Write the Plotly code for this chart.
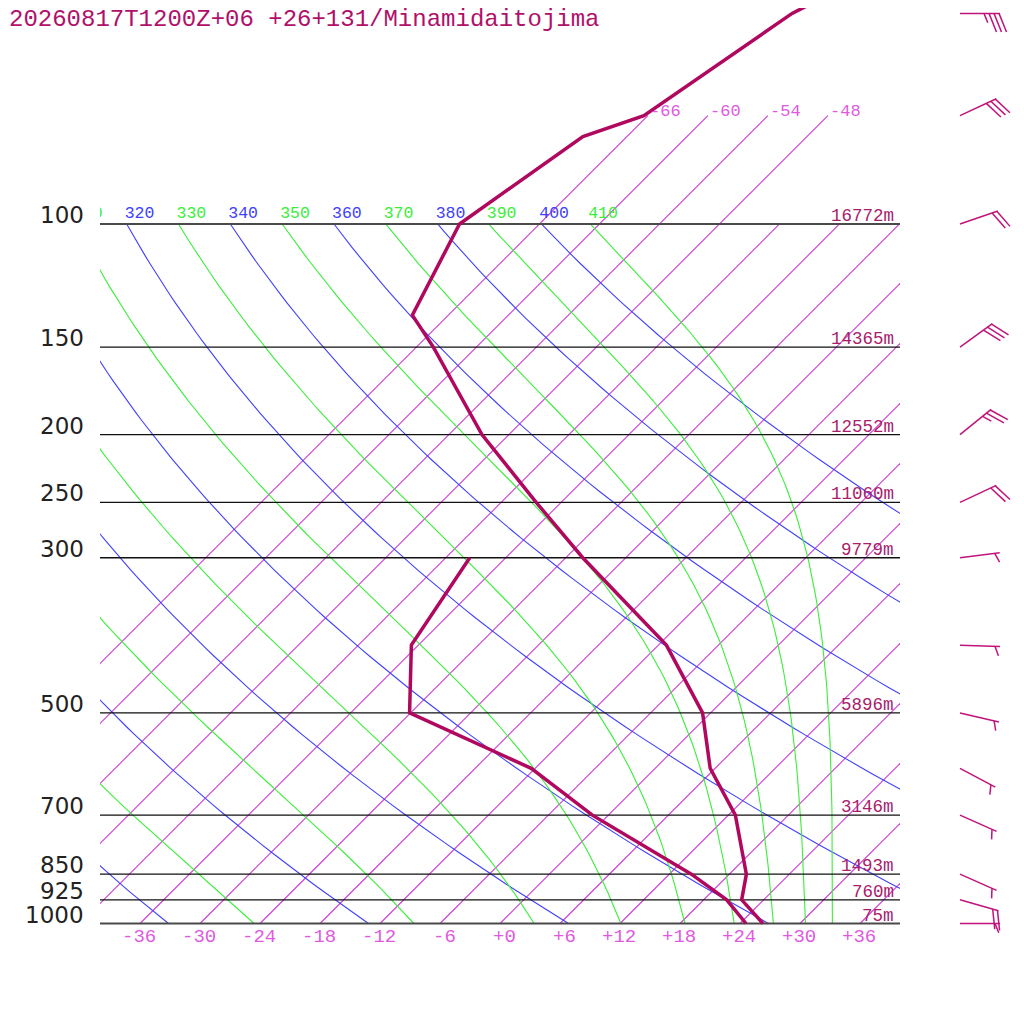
import numpy as np
import plotly.graph_objects as go

TITLE = "20260817T1200Z+06 +26+131/Minamidaitojima"

# sounding: temperature and dew point (hPa, degC)
temp_p = [1000, 925, 850, 700, 600, 500, 400, 300, 250, 200, 150, 135, 100, 75, 70, 50, 40]
temp_c = [26.3, 21.8, 19.7, 12.7, 5.5, -0.8, -11.2, -28.3, -38.5, -50.7, -64.3, -69.6, -74.0, -70.4, -66.4, -61.8, -55.2]
dewp_p = [1000, 925, 850, 700, 600, 500, 400, 300]
dewp_c = [24.6, 20.3, 14.2, -1.6, -12.4, -30.1, -36.7, -39.6]

# standard levels with geopotential height (m)
level_p = [100, 150, 200, 250, 300, 500, 700, 850, 925, 1000]
level_hgt = [16772, 14365, 12552, 11060, 9779, 5896, 3146, 1493, 760, 75]

# winds (direction deg, speed kt)
wind_p = [50, 70, 100, 150, 200, 250, 300, 400, 500, 600, 700, 850, 925, 1000]
wind_dir = [90, 65, 71, 54, 51, 65, 83, 92, 103, 118, 114, 114, 106, 90]
wind_kt = [35, 30, 20, 30, 25, 20, 5, 5, 5, 5, 5, 5, 20, 5]

# background lines
isotherms = [-66, -60, -54, -48, -42, -36, -30, -24, -18, -12, -6, 0, 6, 12, 18, 24, 30, 36]
upper_isotherms = [-66, -60, -54, -48]
dry_theta = [240, 260, 280, 300, 320, 340, 360, 380, 400]
moist_thetae = [250, 270, 290, 310, 330, 350, 370, 390, 410]
temp_ticks = [-36, -30, -24, -18, -12, -6, 0, 6, 12, 18, 24, 30, 36]

# diagram geometry (page pixels; the page body adds an 8 px margin)
PAGE_OFF = 8
FIG_W = 1024 - PAGE_OFF
K_PX = 303.8          # pixels per e-fold of pressure
SKEW = K_PX / 10.0    # degC of skew per e-fold (10 px per degC)
Y1000 = 923.5
LOG_P_TOP = 3 - (Y1000 - PAGE_OFF) / (K_PX * np.log(10))
LOG_P_BOT = 3 + (1024 - Y1000) / (K_PX * np.log(10))
KAPPA = 0.2854

ISO_COLOR = "#cf3ad6"
ISO_LABEL = "#e05ae0"
DRY_COLOR = "#4040ff"
MOIST_COLOR = "#3aee3a"
PROFILE = "#b0085e"
HGT_COLOR = "#a8206c"
BARB_COLOR = "#c0147a"
MONO = "Liberation Mono"


def skew_x(t, p):
    return np.asarray(t) + SKEW * np.log(1000.0 / np.asarray(p))


def theta_e(tk, p):
    tc = tk - 273.15
    es = 6.112 * np.exp(17.67 * tc / (tc + 243.5))
    r = 622.0 * es / (p - es)
    th = tk * (1000.0 / p) ** (KAPPA * (1 - 0.28e-3 * r))
    return th * np.exp((3.376 / tk - 0.00254) * r * (1 + 0.81e-3 * r))


def moist_temp(te, p):
    lo = np.full_like(p, 100.0)
    hi = np.minimum(te * (p / 1000.0) ** KAPPA + 1, 320.0)
    for _ in range(50):
        mid = 0.5 * (lo + hi)
        above = theta_e(mid, p) > te
        hi = np.where(above, mid, hi)
        lo = np.where(above, lo, mid)
    return 0.5 * (lo + hi) - 273.15


def lines_trace(xs_list, ys_list, color, width, xa="x", ya="y"):
    xs, ys = [], []
    for a, b in zip(xs_list, ys_list):
        xs += list(a) + [None]
        ys += list(b) + [None]
    return go.Scatter(x=xs, y=ys, mode="lines", line=dict(color=color, width=width),
                      xaxis=xa, yaxis=ya, hoverinfo="skip")


def barb(p, direction, speed, base=46.0, staff=40.0):
    d = np.radians(direction)
    ux, uy = np.sin(d), -np.cos(d)
    nx, ny = -uy, ux
    a = np.radians(22)
    bx, by = np.cos(a) * nx + np.sin(a) * ux, np.cos(a) * ny + np.sin(a) * uy

    def pt(dx, dy):
        return base + dx / 10.0, p * np.exp(dy / K_PX)

    segs = [(pt(0, 0), pt(ux * staff, uy * staff))]
    n_full, rest = divmod(speed, 10)
    half = rest >= 5
    s = staff - 1 if n_full else staff - 5
    for _ in range(n_full):
        segs.append((pt(ux * s, uy * s), pt(ux * s + 20 * bx, uy * s + 20 * by)))
        s -= 5
    if half:
        segs.append((pt(ux * s, uy * s), pt(ux * s + 10 * bx, uy * s + 10 * by)))
    return segs


fig = go.Figure()
p_grid = np.geomspace(1000, 100, 90)

# isotherms
iso_x, iso_y = [], []
for t in isotherms:
    pp = np.array([1000.0, 100.0])
    iso_x.append(skew_x(t, pp))
    iso_y.append(pp)
for t in upper_isotherms:
    pp = np.array([100.0, 70.0])
    iso_x.append(skew_x(t, pp))
    iso_y.append(pp)
fig.add_trace(lines_trace(iso_x, iso_y, ISO_COLOR, 1.1))

# dry adiabats
dx_, dy_ = [], []
for th in dry_theta:
    dx_.append(skew_x(th * (p_grid / 1000.0) ** KAPPA - 273.15, p_grid))
    dy_.append(p_grid)
fig.add_trace(lines_trace(dx_, dy_, DRY_COLOR, 1.1))

# moist adiabats
mx_, my_ = [], []
for te in moist_thetae:
    mx_.append(skew_x(moist_temp(float(te), p_grid), p_grid))
    my_.append(p_grid)
fig.add_trace(lines_trace(mx_, my_, MOIST_COLOR, 1.1))

# pressure levels
fig.add_trace(lines_trace([[-40, 40]] * 8, [[p, p] for p in level_p[1:-1]], "#111111", 1.3))
fig.add_trace(lines_trace([[-40, 40]] * 2, [[100, 100], [1000, 1000]], "#4a4a4a", 2))

# adiabat labels along 100 hPa (clipped to the diagram)
lab_x = [x[-1] for x in dx_] + [x[-1] for x in mx_]
lab_t = [str(v) for v in dry_theta] + [str(v) for v in moist_thetae]
lab_c = [DRY_COLOR] * len(dry_theta) + [MOIST_COLOR] * len(moist_thetae)
lab_p = 100 * np.exp(-2.0 / K_PX)
fig.add_trace(go.Scatter(x=np.array(lab_x) - 0.2, y=[lab_p] * len(lab_x), mode="text", text=lab_t,
                         textposition="top right", cliponaxis=True, hoverinfo="skip",
                         textfont=dict(family=MONO, size=16.5, color=lab_c)))

# profiles
fig.add_trace(go.Scatter(x=skew_x(dewp_c, dewp_p), y=dewp_p, mode="lines",
                         line=dict(color=PROFILE, width=3.5), hoverinfo="skip"))
fig.add_trace(go.Scatter(x=skew_x(temp_c, temp_p), y=temp_p, mode="lines",
                         line=dict(color=PROFILE, width=3.5), hoverinfo="skip"))

# wind barbs
bx_, by_ = [], []
for p, d, s in zip(wind_p, wind_dir, wind_kt):
    for (x0, y0), (x1, y1) in barb(p, d, s):
        bx_.append([x0, x1])
        by_.append([y0, y1])
fig.add_trace(lines_trace(bx_, by_, BARB_COLOR, 1.5, "x2", "y2"))

ann = []
for p in level_p:
    ann.append(dict(text=str(p), xref="x2", x=-41.4, xanchor="right", yref="y2", y=np.log10(p),
                    yanchor="bottom", yshift=-6, showarrow=False,
                    font=dict(family="DejaVu Sans", size=23, color="#222222")))
for p, h in zip(level_p, level_hgt):
    ann.append(dict(text=f"{h}m", xref="x2", x=39.6, xanchor="right", yref="y2", y=np.log10(p),
                    yanchor="bottom", yshift=-4, showarrow=False,
                    font=dict(family=MONO, size=17.5, color=HGT_COLOR)))
for t in temp_ticks:
    ann.append(dict(text=f"{t:+d}", xref="x2", x=t + 1.8, xanchor="right", yref="y2", y=3,
                    yanchor="top", yshift=0, showarrow=False,
                    font=dict(family=MONO, size=19, color=ISO_LABEL)))
for t in upper_isotherms:
    ann.append(dict(text=str(t), xref="x2", x=float(skew_x(t, 70)), xanchor="left",
                    yref="y2", y=np.log10(70), yanchor="bottom", yshift=-7, showarrow=False,
                    font=dict(family=MONO, size=17, color=ISO_LABEL)))
ann.append(dict(text=TITLE, xref="paper", x=-1 / FIG_W, xanchor="left", yref="paper", y=1,
                yanchor="top", yshift=4, showarrow=False,
                font=dict(family=MONO, size=24, color="#b0106a")))

fig.update_layout(
    width=FIG_W, height=FIG_W,
    margin=dict(l=0, r=0, t=0, b=0),
    paper_bgcolor="white", plot_bgcolor="rgba(0,0,0,0)",
    showlegend=False,
    xaxis=dict(domain=[(100 - PAGE_OFF) / FIG_W, (900 - PAGE_OFF) / FIG_W], range=[-40, 40],
               visible=False, anchor="y"),
    yaxis=dict(domain=[0, 1], type="log", range=[LOG_P_BOT, LOG_P_TOP], visible=False, anchor="x"),
    xaxis2=dict(domain=[0, 1], range=[(PAGE_OFF - 500) / 10.0, 52.4], visible=False, anchor="y2"),
    yaxis2=dict(domain=[0, 1], type="log", range=[LOG_P_BOT, LOG_P_TOP], visible=False, anchor="x2"),
    annotations=ann,
)

fig.write_html("out.html")
